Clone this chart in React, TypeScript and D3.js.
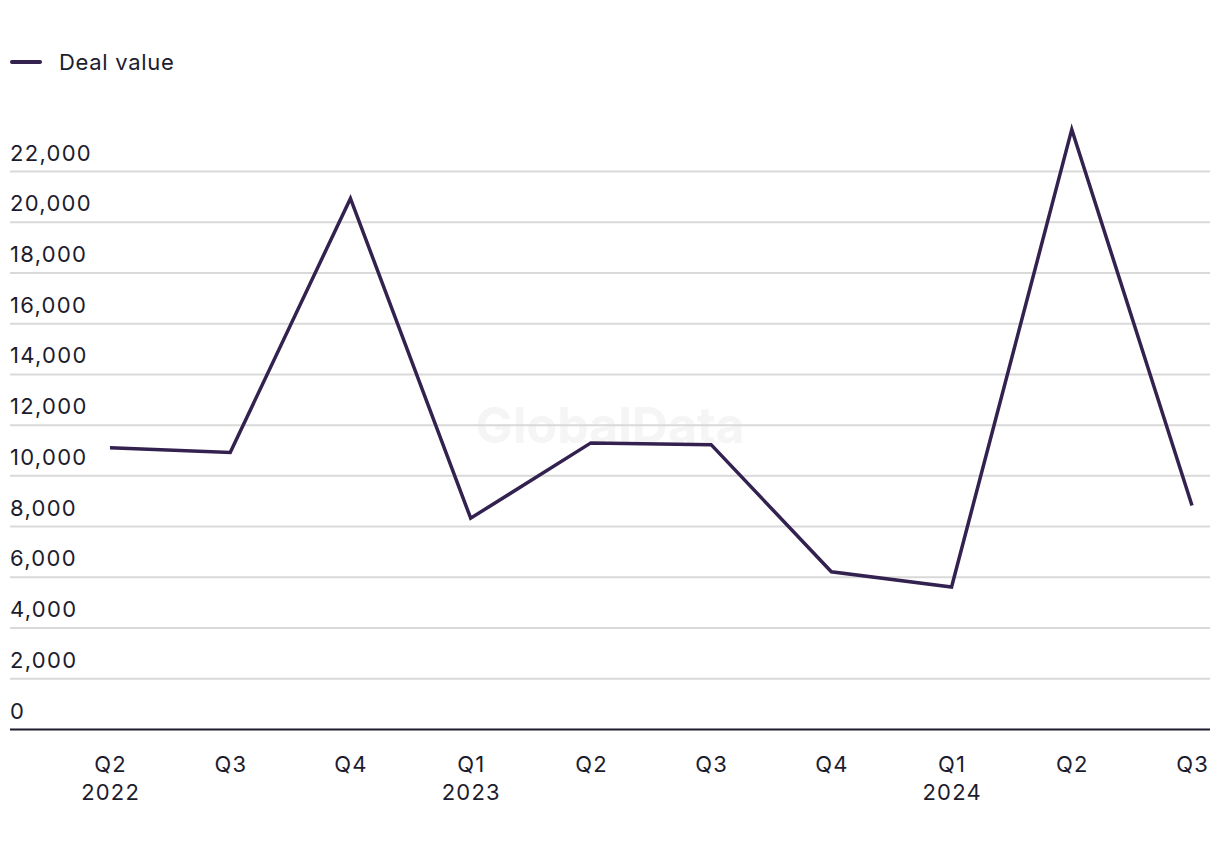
import React from "react";
import * as d3 from "d3";

const quarters = ["Q2", "Q3", "Q4", "Q1", "Q2", "Q3", "Q4", "Q1", "Q2", "Q3"];
const years = ["2022", "", "", "2023", "", "", "", "2024", "", ""];
const dealValue = [11110, 10920, 20940, 8330, 11300, 11230, 6220, 5620, 23660, 8830];
const yTicks = [0, 2000, 4000, 6000, 8000, 10000, 12000, 14000, 16000, 18000, 20000, 22000];
const seriesName = "Deal value";

const W = 1220;
const H = 850;
const FONT = "Inter, 'Noto Sans', sans-serif";
const TEXT = "#1c1c2e";
const LINE = "#33214f";

export default function App() {
  const x = d3
    .scalePoint<number>()
    .domain(d3.range(quarters.length))
    .range([110, 1192]);
  const y = d3.scaleLinear().domain([0, 22000]).range([729.5, 171.5]);
  const line = d3
    .line<number>()
    .x((_, i) => x(i) as number)
    .y((d) => y(d));
  const fmt = d3.format(",");

  return (
    <svg
      width={W}
      height={H}
      style={{ position: "absolute", left: 0, top: 0, background: "#fff" }}
      fontFamily={FONT}
    >
      <text
        x={610}
        y={443}
        textAnchor="middle"
        fontSize={50}
        fontWeight={700}
        fill="#f5f5f5"
      >
        GlobalData
      </text>
      {/* legend */}
      <line x1={12} x2={40} y1={62} y2={62} stroke={LINE} strokeWidth={4} strokeLinecap="round" />
      <text x={59} y={70} fontSize={22} letterSpacing={0.7} fill={TEXT}>
        {seriesName}
      </text>
      {/* grid */}
      {yTicks.map((t) => (
        <g key={t}>
          {t > 0 && (
            <line x1={10} x2={1210} y1={y(t)} y2={y(t)} stroke="#d9d9d9" strokeWidth={2} />
          )}
          <text x={10} y={y(t) - 11} fontSize={22} letterSpacing={1.3} fill={TEXT}>
            {fmt(t)}
          </text>
        </g>
      ))}
      <line x1={10} x2={1210} y1={y(0)} y2={y(0)} stroke={TEXT} strokeWidth={2} />
      {/* x labels */}
      {quarters.map((q, i) => (
        <g key={i}>
          <text x={(x(i) as number) + 0.6} y={772} fontSize={22} letterSpacing={1.2} textAnchor="middle" fill={TEXT}>
            {q}
          </text>
          {years[i] && (
            <text x={(x(i) as number) + 0.6} y={800} fontSize={22} letterSpacing={1.2} textAnchor="middle" fill={TEXT}>
              {years[i]}
            </text>
          )}
        </g>
      ))}
      <path d={line(dealValue) || ""} fill="none" stroke={LINE} strokeWidth={3.5} strokeLinejoin="miter" />
    </svg>
  );
}
